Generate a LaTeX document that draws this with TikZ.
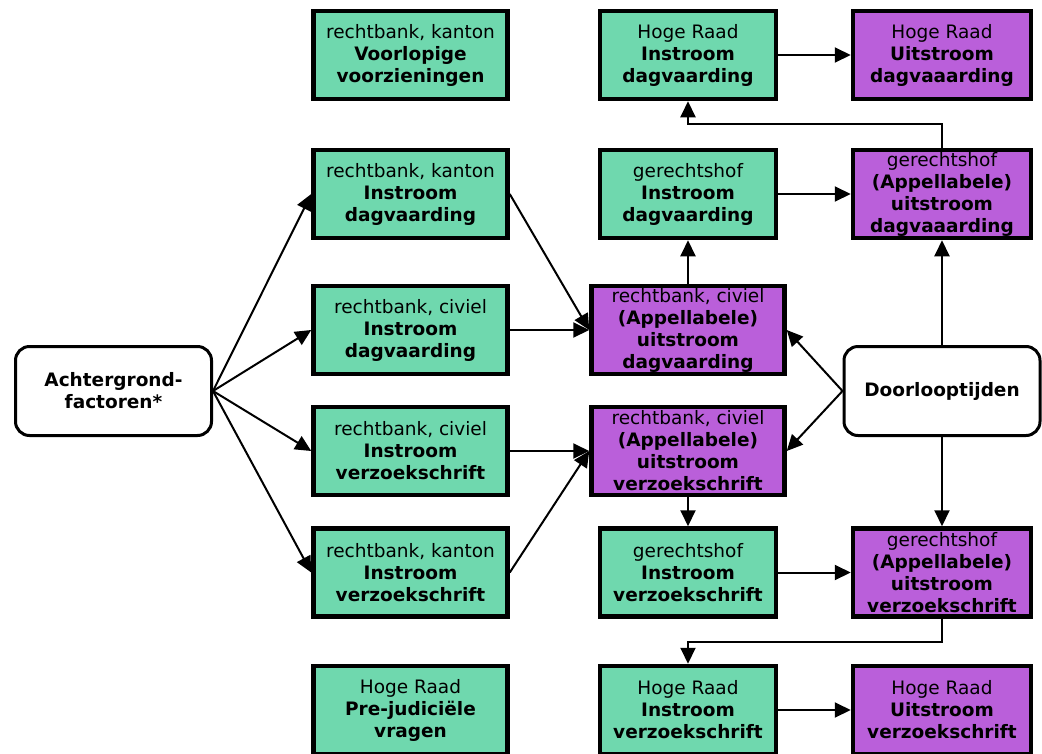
\documentclass[tikz,border=0pt]{standalone}
\usepackage{fontspec}
\setmainfont{DejaVu Sans}
\usetikzlibrary{calc, arrows.meta, positioning}
\definecolor{instroom}{RGB}{111,216,174}
\definecolor{uitstroom}{RGB}{186,95,218}

\begin{document}
\begin{tikzpicture}[x=1pt,y=-1pt,
        box/.style={draw, line width=4.5pt, inner sep=0pt, align=center,
          font=\fontsize{18.5}{22}\selectfont},
        inbox/.style={box, fill=instroom, minimum width=176pt, minimum height=88pt},
        uitbox/.style={box, fill=uitstroom, minimum width=176pt, minimum height=88pt},
        widebox/.style={minimum width=194pt},
        factor/.style={box, line width=3pt, rounded corners=14pt, fill=white,
          minimum width=196pt, minimum height=89pt},
        pijl/.style={line width=2pt, -{Triangle[length=16pt,width=15pt]}}]
        \useasboundingbox (0,0) rectangle (1042,753);

        \node[factor] (achtergrond) at (113.5,391) {\textbf{Achtergrond-}\\\textbf{factoren*}};
        \node[factor] (doorloop) at (942,391) {\textbf{Doorlooptijden}};

        \node[inbox, widebox] (rbKantonVV) at (410.5,55) {rechtbank, kanton\\\textbf{Voorlopige}\\\textbf{voorzieningen}};
        \node[inbox, widebox] (rbKantonDag) at (410.5,194) {rechtbank, kanton\\\textbf{Instroom}\\\textbf{dagvaarding}};
        \node[inbox, widebox] (rbCivielDag) at (410.5,330) {rechtbank, civiel\\\textbf{Instroom}\\\textbf{dagvaarding}};
        \node[inbox, widebox] (rbCivielVz) at (410.5,451) {rechtbank, civiel\\\textbf{Instroom}\\\textbf{verzoekschrift}};
        \node[inbox, widebox] (rbKantonVz) at (410.5,572.5) {rechtbank, kanton\\\textbf{Instroom}\\\textbf{verzoekschrift}};
        \node[inbox, widebox] (hrPrejud) at (410.5,710) {Hoge Raad\\\textbf{Pre-judiciële}\\\textbf{vragen}};

        \node[inbox] (hrInDag) at (688,55) {Hoge Raad\\\textbf{Instroom}\\\textbf{dagvaarding}};
        \node[inbox] (ghInDag) at (688,194) {gerechtshof\\\textbf{Instroom}\\\textbf{dagvaarding}};
        \node[uitbox, minimum width=193pt] (rbUitDag) at (688,330) {rechtbank, civiel\\\textbf{(Appellabele)}\\\textbf{uitstroom}\\\textbf{dagvaarding}};
        \node[uitbox, minimum width=193pt] (rbUitVz) at (688,451) {rechtbank, civiel\\\textbf{(Appellabele)}\\\textbf{uitstroom}\\\textbf{verzoekschrift}};
        \node[inbox] (ghInVz) at (688,572.5) {gerechtshof\\\textbf{Instroom}\\\textbf{verzoekschrift}};
        \node[inbox] (hrInVz) at (688,710) {Hoge Raad\\\textbf{Instroom}\\\textbf{verzoekschrift}};

        \node[uitbox, minimum width=178pt] (hrUitDag) at (942,55) {Hoge Raad\\\textbf{Uitstroom}\\\textbf{dagvaaarding}};
        \node[uitbox, minimum width=178pt] (ghUitDag) at (942,194) {gerechtshof\\\textbf{(Appellabele)}\\\textbf{uitstroom}\\\textbf{dagvaaarding}};
        \node[uitbox, minimum width=178pt] (ghUitVz) at (942,572.5) {gerechtshof\\\textbf{(Appellabele)}\\\textbf{uitstroom}\\\textbf{verzoekschrift}};
        \node[uitbox, minimum width=178pt] (hrUitVz) at (942,710) {Hoge Raad\\\textbf{Uitstroom}\\\textbf{verzoekschrift}};

        % achtergrondfactoren
        \foreach \doel in {rbKantonDag, rbCivielDag, rbCivielVz, rbKantonVz}
          \draw[pijl] (achtergrond.east) -- (\doel.west);

        % instroom naar uitstroom
        \draw[pijl] (rbKantonDag.east) -- (rbUitDag.west);
        \draw[pijl] (rbCivielDag.east) -- (rbUitDag.west);
        \draw[pijl] (rbCivielVz.east) -- (rbUitVz.west);
        \draw[pijl] (rbKantonVz.east) -- (rbUitVz.west);
        \draw[pijl] (rbUitDag.north) -- (ghInDag.south);
        \draw[pijl] (rbUitVz.south) -- (ghInVz.north);
        \draw[pijl] (ghInDag.east) -- (ghUitDag.west);
        \draw[pijl] (ghInVz.east) -- (ghUitVz.west);
        \draw[pijl] (hrInDag.east) -- (hrUitDag.west);
        \draw[pijl] (hrInVz.east) -- (hrUitVz.west);
        \draw[pijl] (ghUitDag.north) -- ++(0,-24) -| (hrInDag.south);
        \draw[pijl] (ghUitVz.south) -- ++(0,23) -| (hrInVz.north);

        % doorlooptijden
        \draw[pijl] (doorloop.north) -- (ghUitDag.south);
        \draw[pijl] (doorloop.south) -- (ghUitVz.north);
        \draw[pijl] (doorloop.west) -- (rbUitDag.east);
        \draw[pijl] (doorloop.west) -- (rbUitVz.east);
\end{tikzpicture}
\end{document}
